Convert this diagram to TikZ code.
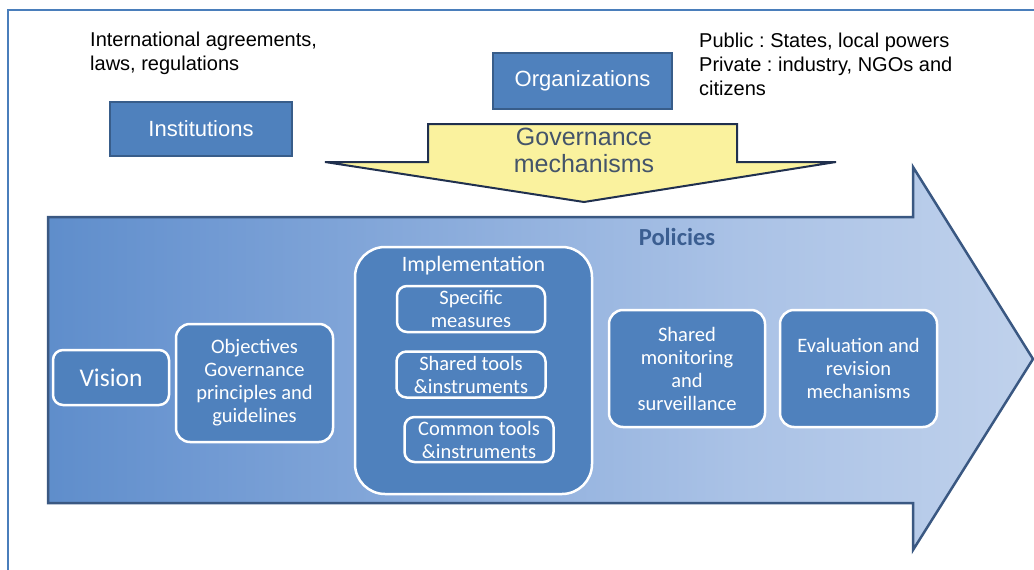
\documentclass[tikz,border=0pt]{standalone}
\usepackage{fontspec}
\setmainfont{Liberation Sans}
\newfontfamily\calibri{Carlito}
\usepackage{tikz}
\usetikzlibrary{positioning}

\definecolor{framecol}{RGB}{74,126,187}
\definecolor{boxfill}{RGB}{79,129,189}
\definecolor{boxedge}{RGB}{56,93,138}
\definecolor{arrowedge}{RGB}{58,88,130}
\definecolor{mechfill}{RGB}{250,242,158}
\definecolor{mechedge}{RGB}{32,48,78}
\definecolor{mechtext}{RGB}{68,84,106}
\definecolor{policytext}{RGB}{59,94,145}
\definecolor{policydark}{RGB}{84,134,198}
\definecolor{policymid}{RGB}{110,152,210}
\definecolor{policylight}{RGB}{170,194,230}
\definecolor{policypale}{RGB}{228,235,245}

\pgfdeclarehorizontalshading{policyshade}{100bp}{
  color(0bp)=(policydark); color(20bp)=(policydark);
  color(32bp)=(policymid); color(60bp)=(policylight);
  color(100bp)=(policypale)}

\tikzset{
  note_font/.style = {font=\frenchspacing\fontsize{20}{24}\selectfont},
  title_font/.style = {font=\fontsize{22}{26}\selectfont},
  box_font/.style = {font=\calibri\fontsize{20.5}{23}\selectfont},
  big_font/.style = {font=\calibri\fontsize{25.5}{28}\selectfont}
}
\tikzset{
  note/.style = {note_font, align=left, anchor=north west, inner sep=0},
  actor/.style = {title_font, draw=boxedge, line width=2, fill=boxfill, text=white, inner sep=0},
  stage/.style = {box_font, draw=white, line width=2.5, fill=boxfill, text=white,
    align=center, rounded corners=14, inner sep=0},
  tool/.style = {stage, rounded corners=10, minimum width=149, minimum height=46}
}

\begin{document}
\begin{tikzpicture}[x=1pt, y=-1pt, node distance=17pt]
    \useasboundingbox (0,0) rectangle (1034,570);

    % Frame
    \draw[framecol, line width=2] (8,570) -- (8,10) -- (1034,10);

    % Policies arrow
    \path[shading=policyshade, draw=arrowedge, line width=2.5, line join=miter]
        (48,217) -- (913,217) -- (913,167) -- (1033,359) -- (913,550)
        -- (913,503) -- (48,503) -- cycle;

    % Governance arrow
    \draw[fill=mechfill, draw=mechedge, line width=2]
        (428,124) -- (737,124) -- (737,162) -- (836,162) -- (584,202)
        -- (325,162) -- (428,162) -- cycle;

    % Actors
    \node[actor, minimum width=182, minimum height=54] at (201,129) (inst) {Institutions};
    \node[actor, minimum width=179, minimum height=56] at (582.5,81) (org) {Organizations};
    \node[note] at (90,32) (inst_note) {
        International agreements,\\
        laws, regulations};
    \node[note] at (699,33) (org_note) {
        Public : States, local powers\\
        Private : industry, NGOs and\\
        citizens};
    \node[align=center, text=mechtext, font=\fontsize{25}{27}\selectfont, inner sep=0]
        at (584,150) (mech) {Governance\\mechanisms};

    % All content
    \node[font=\calibri\bfseries\fontsize{24.5}{26}\selectfont,
        text=policytext, inner sep=0] at (677,237) (pol) {Policies};

    \node[stage, big_font, rounded corners=10, minimum width=116, minimum height=55]
        at (111,377.5) (vision) {Vision};
    \node[stage, minimum width=157, minimum height=118] at (254.5,383) (obj) {
        Objectives\\ Governance\\ principles and\\ guidelines};
    \node[stage, rounded corners=30, minimum width=237, minimum height=247]
        at (473.5,370.5) (impl) {};
    \node[text=white, font=\calibri\fontsize{22}{24}\selectfont, inner sep=0]
        at (473.5,266) (impl_title) {Implementation};
    \node[tool, minimum width=148] at (471,309) (spec) {Specific\\ measures};
    \node[tool, below=of spec] (shared) {Shared tools\\ \&instruments};
    \node[tool, minimum height=45, below=of shared, xshift=8pt] (common) {Common tools\\ \&instruments};
    \node[stage, minimum width=156, minimum height=117] at (687,368.5) (monit) {
        Shared\\ monitoring\\ and\\ surveillance};
    \node[stage, minimum width=157, minimum height=117] at (858.5,368.5) (eval) {
        Evaluation and\\ revision\\ mechanisms};
\end{tikzpicture}
\end{document}
